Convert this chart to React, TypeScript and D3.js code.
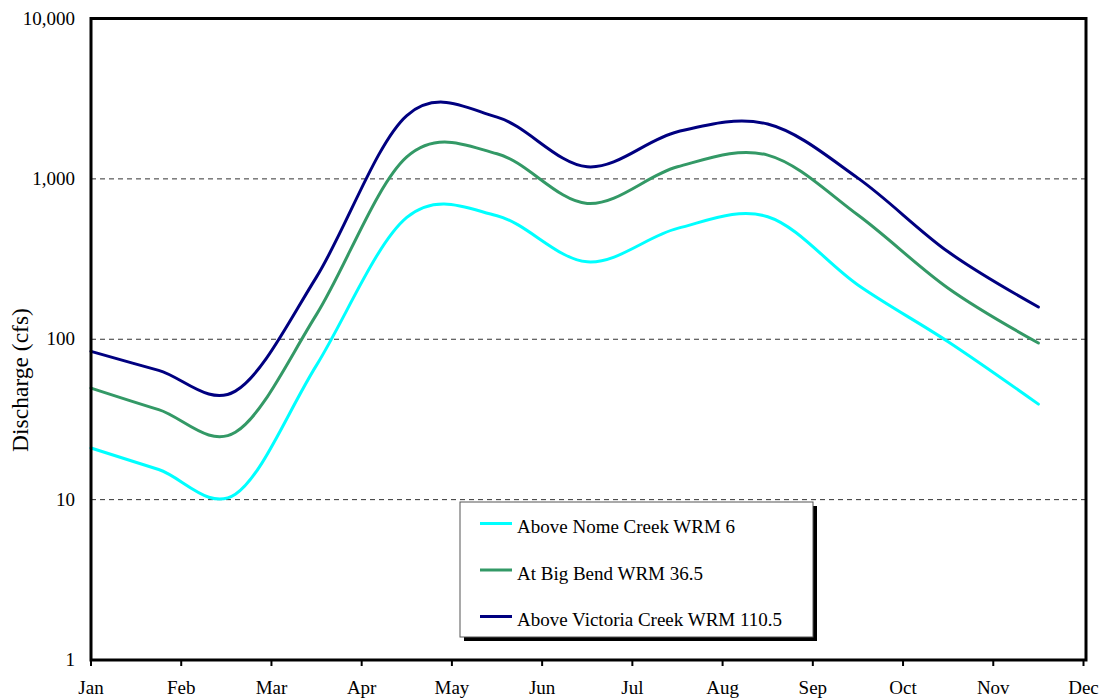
import React from "react";
import * as d3 from "d3";

// Reading positions in months from Jan 1
const monthPos = [0, 0.75, 1.6, 2.5, 3.5, 4.5, 5.5, 6.5, 7.5, 8.5, 9.5, 10.5];

// Mean discharge (cfs) at each position
const nomeCreek = [21, 15.4, 10.8, 69, 575, 589, 304, 491, 581, 218, 96.5, 39.4];
const bigBend = [49.6, 36.4, 26.3, 143, 1371, 1435, 703, 1189, 1407, 595, 208, 94.7];
const victoriaCreek = [84, 64, 47.5, 245, 2483, 2427, 1189, 1967, 2197, 1011, 351, 159];

const monthLabels = ["Jan", "Feb", "Mar", "Apr", "May", "Jun", "Jul", "Aug", "Sep", "Oct", "Nov", "Dec"];
const yTicks = [1, 10, 100, 1000, 10000];
const gridValues = [10, 100, 1000];

const seriesNames = ["Above Nome Creek WRM 6", "At Big Bend WRM 36.5", "Above Victoria Creek WRM 110.5"];
const seriesColors = ["#00FFFF", "#339966", "#000080"];
const seriesValues = [nomeCreek, bigBend, victoriaCreek];

const W = 1104;
const H = 700;
const left = 91;
const right = 1086;
const top = 18.5;
const bottom = 660;
const font = "'Liberation Serif', 'Times New Roman', Times, serif";

export default function App() {
  const x = d3.scaleLinear().domain([0, 11]).range([left, 1083.5]);
  const y = d3.scaleLog().domain([1, 10000]).range([bottom, top]);

  const line = d3
    .line<[number, number]>()
    .x((d) => x(d[0]))
    .y((d) => y(d[1]))
    .curve(d3.curveCardinal.tension(0));

  const fmt = d3.format(",");

  const legendX = 460;
  const legendY = 502;
  const legendW = 353;
  const legendH = 135;

  const textStyle = { fontFamily: font, fontSize: "19px" };

  return (
    <svg
      width={W}
      height={H}
      style={{ position: "absolute", left: 0, top: 0, background: "#fff", fontFamily: font }}
    >
      {/* dashed gridlines */}
      {gridValues.map((v) => (
        <line
          key={v}
          x1={left}
          x2={right}
          y1={y(v)}
          y2={y(v)}
          stroke="#333"
          strokeWidth={1}
          strokeDasharray="5,4"
        />
      ))}

      {/* series */}
      {seriesValues.map((vals, i) => (
        <path
          key={i}
          d={line(monthPos.map((m, j) => [m, vals[j]] as [number, number])) || ""}
          fill="none"
          stroke={seriesColors[i]}
          strokeWidth={3}
          strokeLinecap="round"
          strokeLinejoin="round"
        />
      ))}

      {/* plot frame */}
      <rect
        x={left}
        y={top}
        width={right - left}
        height={bottom - top}
        fill="none"
        stroke="#000"
        strokeWidth={3}
      />

      {/* x-axis ticks and labels */}
      {monthLabels.map((m, i) => (
        <g key={m}>
          <line x1={x(i)} x2={x(i)} y1={bottom} y2={bottom + 6} stroke="#000" strokeWidth={2} />
          <text x={x(i)} y={694} textAnchor="middle" style={textStyle} fill="#000">
            {m}
          </text>
        </g>
      ))}

      {/* y-axis labels */}
      {yTicks.map((v) => (
        <text key={v} x={75} y={y(v) + 6} textAnchor="end" style={textStyle} fill="#000">
          {fmt(v)}
        </text>
      ))}

      <text
        transform="translate(27.5,380) rotate(-90)"
        textAnchor="middle"
        style={{ fontFamily: font, fontSize: "23.5px" }}
        fill="#000"
      >
        Discharge (cfs)
      </text>

      {/* legend */}
      <rect x={legendX + 4} y={legendY + 4} width={legendW} height={legendH} fill="#000" />
      <rect x={legendX} y={legendY} width={legendW} height={legendH} fill="#fff" stroke="#555" strokeWidth={1} />
      {seriesNames.map((name, i) => {
        const ly = 523.5 + i * 46.5;
        return (
          <g key={name}>
            <line x1={480} x2={512} y1={ly} y2={ly} stroke={seriesColors[i]} strokeWidth={3} />
            <text x={517} y={ly + 9.5} style={textStyle} fill="#000">
              {name}
            </text>
          </g>
        );
      })}
    </svg>
  );
}
